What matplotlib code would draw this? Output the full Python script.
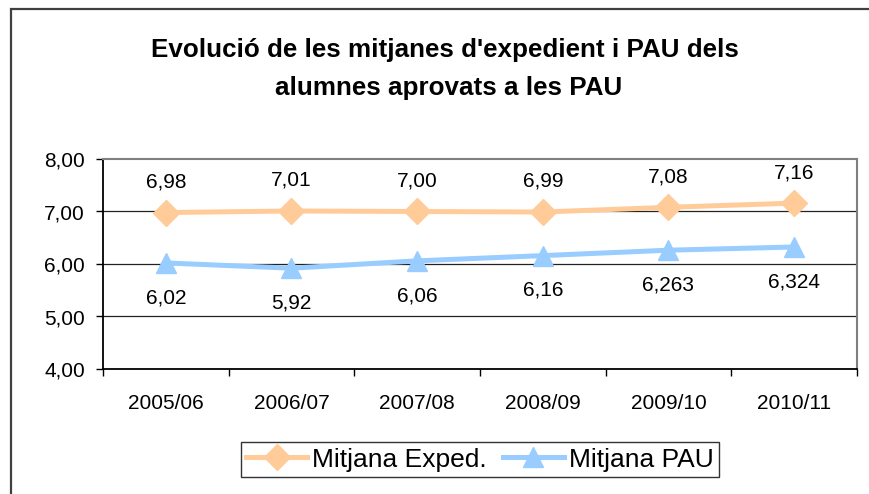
import matplotlib
matplotlib.use("Agg")
import matplotlib.pyplot as plt
from matplotlib.patches import Rectangle

plt.rcParams['font.family'] = ['Liberation Sans', 'DejaVu Sans']

categories = ["2005/06", "2006/07", "2007/08", "2008/09", "2009/10", "2010/11"]
exped = [6.98, 7.01, 7.00, 6.99, 7.08, 7.16]
exped_labels = ["6,98", "7,01", "7,00", "6,99", "7,08", "7,16"]
pau = [6.02, 5.92, 6.06, 6.16, 6.263, 6.324]
pau_labels = ["6,02", "5,92", "6,06", "6,16", "6,263", "6,324"]
yticks = [4, 5, 6, 7, 8]
ytick_labels = ["4,00", "5,00", "6,00", "7,00", "8,00"]

orange = "#FFCC99"
blue = "#99CCFF"

fig = plt.figure(figsize=(8.7, 4.94), dpi=100)
W, H = 870, 494

# figure border (top and left visible)
fig.add_artist(Rectangle((11 / W, -0.1), 1.2, 1 - 9 / H + 0.1, transform=fig.transFigure,
                         fill=False, edgecolor="#404040", linewidth=1.6))

ax = fig.add_axes([103 / W, 1 - 369 / H, (857 - 103) / W, (369 - 159) / H])
x = list(range(len(categories)))

ax.plot(x, exped, color=orange, linewidth=3.6, marker="D", markersize=13,
        markeredgecolor=orange, label="Mitjana Exped.", zorder=3)
ax.plot(x, pau, color=blue, linewidth=3.6, marker="^", markersize=14,
        markeredgecolor=blue, label="Mitjana PAU", zorder=3)

for xi, v, t in zip(x, exped, exped_labels):
    ax.annotate(t, (xi, v), xytext=(0, 22), textcoords="offset points",
                ha="center", va="center", fontsize=15)
for xi, v, t in zip(x, pau, pau_labels):
    ax.annotate(t, (xi, v), xytext=(0, -25), textcoords="offset points",
                ha="center", va="center", fontsize=15)

ax.set_xlim(-0.5, len(categories) - 0.5)
ax.set_ylim(4, 8)
ax.set_yticks(yticks)
ax.set_yticklabels(ytick_labels, fontsize=15)
ax.set_xticks(x)
ax.set_xticklabels(categories, fontsize=15)
ax.tick_params(axis="x", which="major", length=0, pad=18)
ax.set_xticks([i - 0.5 for i in range(len(categories) + 1)], minor=True)
ax.tick_params(axis="x", which="minor", length=5, width=1, direction="out", color="black")
ax.tick_params(axis="y", length=5, width=1, direction="out", pad=8)

for yv in [5, 6, 7]:
    ax.axhline(yv, color="#222222", linewidth=0.9, zorder=1)

ax.spines["left"].set_color("black")
ax.spines["bottom"].set_color("black")
ax.spines["left"].set_linewidth(1.3)
ax.spines["bottom"].set_linewidth(1.3)
ax.spines["top"].set_color("#808080")
ax.spines["right"].set_color("#808080")
ax.spines["top"].set_linewidth(1.5)
ax.spines["right"].set_linewidth(1.5)

fig.text(445 / W, 1 - 50 / H, "Evolució de les mitjanes d'expedient i PAU dels",
         ha="center", va="center", fontsize=18.7, fontweight="bold")
fig.text(449 / W, 1 - 88 / H, "alumnes aprovats a les PAU",
         ha="center", va="center", fontsize=18.7, fontweight="bold")

leg = fig.legend(loc="center", bbox_to_anchor=(480 / W, 1 - 459.5 / H), ncol=2,
                 fontsize=19, frameon=True, fancybox=False, edgecolor="black",
                 handlelength=2.3, handletextpad=0.2, columnspacing=0.6,
                 borderpad=0.2, borderaxespad=0)
leg.get_frame().set_linewidth(1.0)

fig.savefig("out.png", dpi=100)
